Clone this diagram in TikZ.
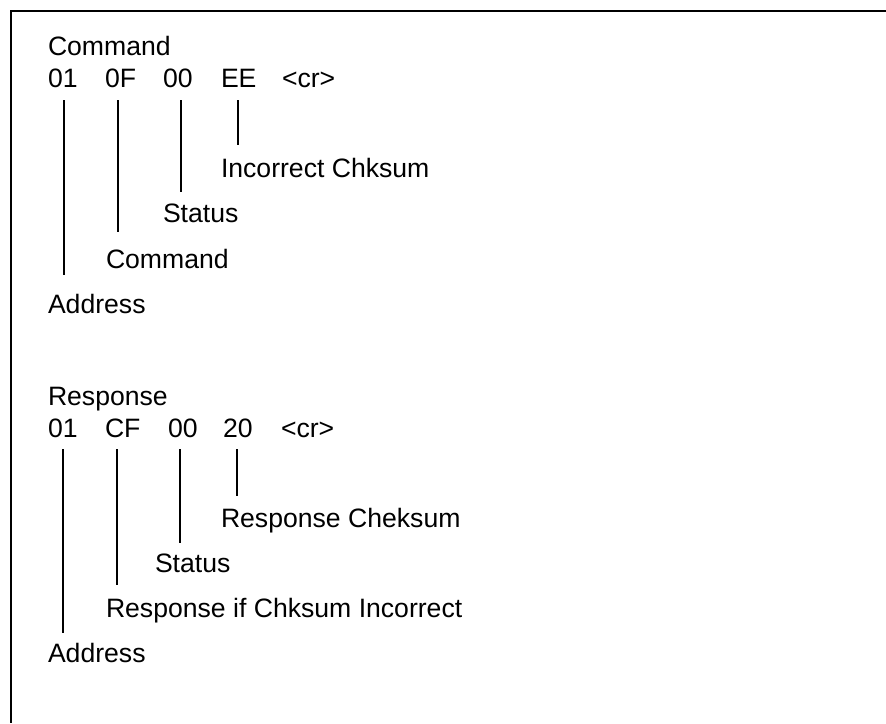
\documentclass[tikz,border=0pt]{standalone}
\usepackage{fontspec}
\setmainfont{Liberation Sans}
\begin{document}
\begin{tikzpicture}[x=1pt,y=-1pt,
  txt/.style={anchor=base west,inner sep=0pt,outer sep=0pt,font=\fontsize{26.6}{30}\selectfont},
  lead/.style={line width=2.4pt},
  frame/.style={line width=2.6pt}]
\useasboundingbox (0,0) rectangle (886,723);
% partial frame
\coordinate (ftr) at (886,11);
\coordinate (ftl) at (11,11);
\coordinate (fbl) at (11,723);
\draw[frame] (ftr) -- (ftl) -- (fbl);

% Command section
\node[txt] (ctitle) at (48,55) {Command};
\node[txt] (c01) at (48,87) {01};
\node[txt] (c0F) at (105,87) {0F};
\node[txt] (c00) at (163,87) {00};
\node[txt] (cEE) at (221,87) {EE};
\node[txt] (ccr) at (282,87) {<cr>};
\node[txt] (cchk) at (221,177) {Incorrect Chksum};
\node[txt] (cstat) at (163,222) {Status};
\node[txt] (ccmd) at (106,268) {Command};
\node[txt] (caddr) at (48,313) {Address};

\coordinate (ca1) at (64,100);  \coordinate (ca2) at (64,275);
\coordinate (cb1) at (118,100); \coordinate (cb2) at (118,232);
\coordinate (cc1) at (181,100); \coordinate (cc2) at (181,192);
\coordinate (cd1) at (238,100); \coordinate (cd2) at (238,145);
\draw[lead] (ca1) -- (ca2);
\draw[lead] (cb1) -- (cb2);
\draw[lead] (cc1) -- (cc2);
\draw[lead] (cd1) -- (cd2);

% Response section
\node[txt] (rtitle) at (48,405) {Response};
\node[txt] (r01) at (48,437) {01};
\node[txt] (rCF) at (105,437) {CF};
\node[txt] (r00) at (168,437) {00};
\node[txt] (r20) at (223,437) {20};
\node[txt] (rcr) at (281,437) {<cr>};
\node[txt] (rchk) at (221,527) {Response Cheksum};
\node[txt] (rstat) at (155,572) {Status};
\node[txt] (rinc) at (106,617) {Response if Chksum Incorrect};
\node[txt] (raddr) at (48,662) {Address};

\coordinate (ra1) at (63,449);  \coordinate (ra2) at (63,633);
\coordinate (rb1) at (117,449); \coordinate (rb2) at (117,585);
\coordinate (rc1) at (180,449); \coordinate (rc2) at (180,543);
\coordinate (rd1) at (237,449); \coordinate (rd2) at (237,496);
\draw[lead] (ra1) -- (ra2);
\draw[lead] (rb1) -- (rb2);
\draw[lead] (rc1) -- (rc2);
\draw[lead] (rd1) -- (rd2);
\end{tikzpicture}
\end{document}
